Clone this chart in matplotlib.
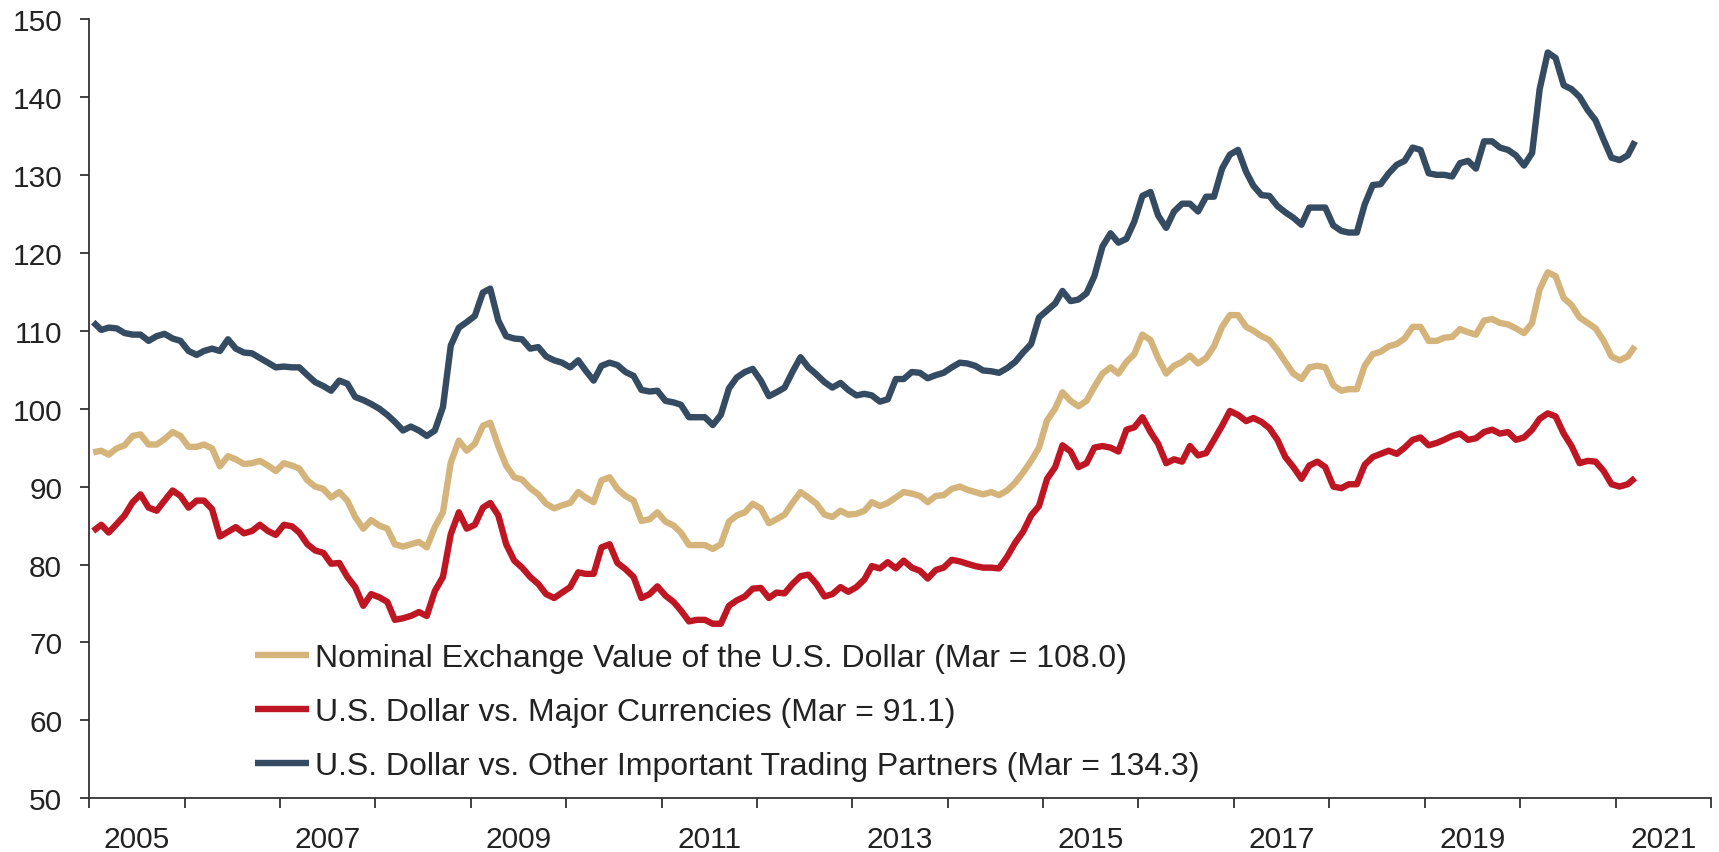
import pandas as pd
import matplotlib
matplotlib.use('Agg')
import matplotlib.pyplot as plt
import matplotlib.dates as mdates
from matplotlib.ticker import FixedLocator

plt.rcParams['font.family'] = ['Liberation Sans', 'DejaVu Sans']

# monthly index values, Jan 2005 - Mar 2021 (one row per year)
nominal = [
    94.4, 94.6, 94.1, 94.9, 95.3, 96.5, 96.7, 95.4, 95.4, 96.1, 97.0, 96.5,
    95.1, 95.1, 95.4, 94.9, 92.6, 93.9, 93.5, 92.9, 93.0, 93.3, 92.7, 92.0,
    93.0, 92.7, 92.3, 90.8, 90.0, 89.7, 88.6, 89.3, 88.2, 86.1, 84.6, 85.7,
    85.0, 84.6, 82.6, 82.3, 82.6, 82.9, 82.2, 84.8, 86.7, 93.1, 95.9, 94.6,
    95.5, 97.8, 98.2, 95.2, 92.7, 91.2, 90.9, 89.8, 89.0, 87.8, 87.2, 87.6,
    87.9, 89.3, 88.6, 88.0, 90.8, 91.2, 89.7, 88.8, 88.2, 85.6, 85.8, 86.7,
    85.5, 85.0, 84.1, 82.5, 82.5, 82.5, 82.0, 82.6, 85.5, 86.3, 86.7, 87.8,
    87.2, 85.3, 85.8, 86.4, 87.9, 89.3, 88.6, 87.8, 86.4, 86.1, 86.9, 86.4,
    86.5, 86.9, 88.0, 87.5, 87.9, 88.6, 89.3, 89.1, 88.8, 88.0, 88.8, 88.9,
    89.7, 90.0, 89.6, 89.3, 89.0, 89.3, 88.9, 89.5, 90.5, 91.8, 93.3, 95.0,
    98.5, 100.0, 102.1, 101.0, 100.3, 101.0, 102.8, 104.5, 105.3, 104.5, 106.0, 107.0,
    109.5, 108.8, 106.5, 104.5, 105.5, 106.0, 106.8, 105.8, 106.5, 108.0, 110.5, 112.0,
    112.0, 110.5, 110.0, 109.3, 108.8, 107.5, 106.0, 104.5, 103.8, 105.3, 105.5, 105.3,
    103.0, 102.3, 102.5, 102.5, 105.5, 107.0, 107.3, 108.0, 108.3, 109.0, 110.5, 110.5,
    108.7, 108.7, 109.1, 109.2, 110.2, 109.8, 109.5, 111.3, 111.5, 111.0, 110.8, 110.3,
    109.7, 111.0, 115.3, 117.5, 117.0, 114.2, 113.3, 111.7, 111.0, 110.3, 108.7, 106.7,
    106.2, 106.7, 108.0,
]

major = [
    84.3, 85.1, 84.1, 85.2, 86.3, 88.0, 89.0, 87.3, 86.9, 88.2, 89.5, 88.8,
    87.3, 88.2, 88.2, 87.1, 83.6, 84.2, 84.8, 84.0, 84.3, 85.1, 84.3, 83.8,
    85.1, 84.9, 84.1, 82.6, 81.8, 81.5, 80.1, 80.2, 78.4, 77.1, 74.7, 76.2,
    75.8, 75.2, 72.9, 73.1, 73.4, 73.9, 73.4, 76.6, 78.4, 83.9, 86.7, 84.6,
    85.1, 87.3, 87.9, 86.3, 82.6, 80.5, 79.6, 78.4, 77.5, 76.2, 75.7, 76.4,
    77.1, 79.0, 78.8, 78.8, 82.2, 82.6, 80.2, 79.4, 78.4, 75.7, 76.2, 77.2,
    76.0, 75.2, 74.1, 72.7, 72.9, 72.9, 72.4, 72.4, 74.7, 75.4, 75.9, 76.9,
    77.0, 75.7, 76.4, 76.3, 77.5, 78.5, 78.7, 77.5, 75.9, 76.2, 77.1, 76.5,
    77.1, 78.1, 79.8, 79.5, 80.3, 79.5, 80.5, 79.6, 79.2, 78.2, 79.3, 79.6,
    80.6, 80.4, 80.1, 79.8, 79.6, 79.6, 79.5, 81.0, 82.8, 84.2, 86.3, 87.5,
    91.0, 92.5, 95.3, 94.5, 92.5, 93.0, 95.0, 95.2, 95.0, 94.5, 97.3, 97.6,
    98.9, 97.0, 95.5, 93.0, 93.5, 93.2, 95.2, 94.0, 94.3, 96.0, 97.8, 99.7,
    99.2, 98.4, 98.8, 98.3, 97.5, 96.0, 93.8, 92.5, 91.0, 92.7, 93.2, 92.5,
    90.0, 89.8, 90.3, 90.3, 92.8, 93.8, 94.2, 94.6, 94.2, 95.0, 96.0, 96.3,
    95.3, 95.6, 96.0, 96.5, 96.8, 96.0, 96.2, 97.0, 97.3, 96.8, 97.0, 96.0,
    96.3, 97.3, 98.7, 99.4, 99.0, 96.8, 95.2, 93.0, 93.3, 93.2, 92.0, 90.3,
    90.0, 90.3, 91.1,
]

other = [
    111.1, 110.1, 110.4, 110.3, 109.7, 109.5, 109.5, 108.7, 109.3, 109.6, 109.0, 108.7,
    107.4, 106.9, 107.4, 107.7, 107.4, 108.9, 107.7, 107.2, 107.1, 106.5, 105.9, 105.3,
    105.4, 105.3, 105.3, 104.3, 103.4, 102.9, 102.3, 103.6, 103.2, 101.5, 101.1, 100.6,
    100.0, 99.2, 98.3, 97.2, 97.7, 97.2, 96.5, 97.2, 100.2, 108.1, 110.4, 111.1,
    111.9, 114.9, 115.4, 111.3, 109.3, 109.0, 108.9, 107.7, 107.9, 106.7, 106.2, 105.9,
    105.3, 106.2, 104.9, 103.6, 105.5, 105.9, 105.6, 104.7, 104.2, 102.4, 102.2, 102.3,
    101.0, 100.8, 100.5, 98.9, 98.9, 98.9, 97.9, 99.2, 102.6, 104.0, 104.7, 105.1,
    103.6, 101.6, 102.1, 102.7, 104.7, 106.6, 105.3, 104.4, 103.4, 102.7, 103.3, 102.4,
    101.7, 101.9, 101.7, 100.9, 101.2, 103.8, 103.8, 104.7, 104.6, 103.9, 104.3, 104.6,
    105.3, 105.9, 105.8, 105.5, 104.9, 104.8, 104.6, 105.2, 106.0, 107.2, 108.3, 111.7,
    112.6, 113.5, 115.1, 113.8, 114.0, 114.8, 117.0, 120.8, 122.5, 121.3, 121.8, 124.0,
    127.3, 127.8, 124.8, 123.2, 125.3, 126.3, 126.3, 125.3, 127.2, 127.2, 130.8, 132.6,
    133.2, 130.4, 128.6, 127.4, 127.3, 126.0, 125.2, 124.5, 123.6, 125.8, 125.8, 125.8,
    123.5, 122.8, 122.6, 122.6, 126.2, 128.7, 128.8, 130.2, 131.3, 131.8, 133.5, 133.2,
    130.2, 130.0, 130.0, 129.8, 131.5, 131.8, 130.8, 134.3, 134.3, 133.5, 133.2, 132.5,
    131.2, 132.8, 141.0, 145.7, 145.0, 141.5, 141.0, 140.0, 138.3, 137.0, 134.5, 132.2,
    131.9, 132.5, 134.3,
]

dates = pd.date_range('2005-01-01', periods=len(nominal), freq='MS') + pd.Timedelta(days=15)
label_years = list(range(2005, 2022, 2))

labels = [
    f'Nominal Exchange Value of the U.S. Dollar (Mar = {nominal[-1]:.1f})',
    f'U.S. Dollar vs. Major Currencies (Mar = {major[-1]:.1f})',
    f'U.S. Dollar vs. Other Important Trading Partners (Mar = {other[-1]:.1f})',
]
colors = ['#D5B47C', '#BE1622', '#344B61']

fig = plt.figure(figsize=(17.19, 8.53), dpi=100)
ax = fig.add_axes([0.05195, 0.06295, 0.9434, 0.9136])

for vals, lab, col in zip([nominal, major, other], labels, colors):
    ax.plot(dates, vals, color=col, lw=4.6, label=lab,
            solid_joinstyle='round', solid_capstyle='butt')

ax.set_ylim(50, 150)
ax.set_yticks(range(50, 151, 10))
ax.set_xlim(pd.Timestamp('2005-01-01'), pd.Timestamp('2022-01-01'))

# year boundaries as tick marks, odd-year labels centred in their year
ax.xaxis.set_major_locator(mdates.YearLocator(1))
ax.xaxis.set_major_formatter(plt.NullFormatter())
mid_years = [mdates.date2num(pd.Timestamp(f'{y}-07-02')) for y in label_years]
ax.xaxis.set_minor_locator(FixedLocator(mid_years))
ax.xaxis.set_minor_formatter(mdates.DateFormatter('%Y'))

txt = '#222222'
ax.tick_params(axis='x', which='major', direction='out', length=7, width=1.3, color='#333333')
ax.tick_params(axis='x', which='minor', length=0, pad=19, labelsize=21.5, labelcolor=txt)
ax.tick_params(axis='y', direction='out', length=6.5, width=1.3, pad=13,
               labelsize=21.5, color='#333333', labelcolor=txt)

for s in ['top', 'right']:
    ax.spines[s].set_visible(False)
for s in ['left', 'bottom']:
    ax.spines[s].set_color('#333333')
    ax.spines[s].set_linewidth(1.3)

leg = ax.legend(loc='upper left', bbox_to_anchor=(0.1022, 0.199), frameon=False,
                fontsize=23, handlelength=1.69, handletextpad=0.19,
                labelspacing=0.755, borderpad=0, borderaxespad=0)
for t in leg.get_texts():
    t.set_color(txt)

fig.savefig('out.png', dpi=100)
